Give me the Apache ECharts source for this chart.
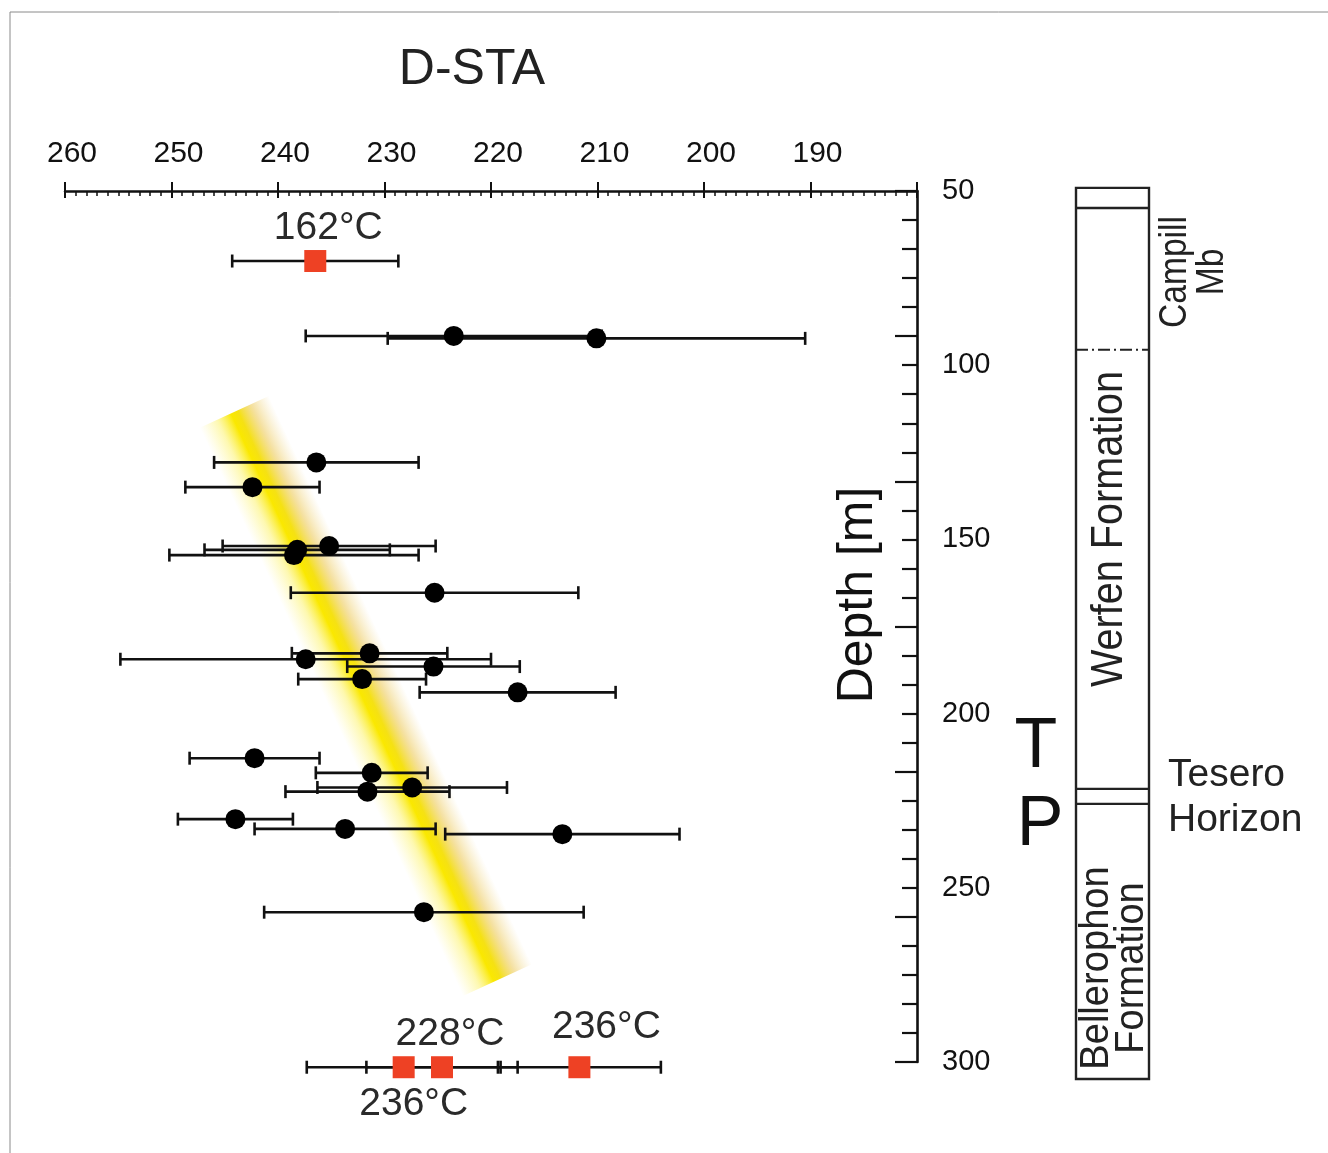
<!DOCTYPE html>
<html><head><meta charset="utf-8">
<script src="https://cdn.jsdelivr.net/npm/echarts@6/dist/echarts.min.js"></script>
<style>html,body{margin:0;padding:0;background:#fff}#c{width:1328px;height:1153px}</style>
</head><body><div id="c"></div>
<script>
// ---- data ----
const tempMin = 180, tempMax = 260;           // x axis (°C), reversed
const depthMin = 50, depthMax = 300;          // y axis (m), downward
const blackDepth = [91.6, 92.3, 127.9, 135.0, 151.9, 153.0, 154.5, 165.3, 182.7, 184.4, 186.5, 190.1, 193.9, 212.8, 217.0, 221.2, 222.4, 230.3, 233.1, 234.6, 257.0];
const blackTemp  = [223.5, 210.1, 236.4, 242.4, 235.2, 238.2, 238.5, 225.3, 231.4, 237.4, 225.4, 232.1, 217.5, 242.2, 231.2, 227.4, 231.6, 244.0, 233.7, 213.3, 226.3];
const blackErr   = [13.9, 19.6, 9.6, 6.3, 10.0, 8.7, 11.7, 13.5, 7.3, 17.4, 8.1, 6.0, 9.2, 6.1, 5.25, 8.9, 7.7, 5.4, 8.5, 11.0, 15.0];
const redDepth  = [70.1, 301.5, 301.5, 301.5];
const redTemp   = [236.5, 228.2, 224.6, 211.7];
const redErr    = [7.8, 9.1, 7.1, 7.65];
const redLabels = ['162°C', '236°C', '228°C', '236°C'];
const bandTemp  = [244.1, 219.4];
const bandDepth = [113.4, 276.5];
const stratDepth = [49.1, 54.9, 95.6, 221.6, 225.9, 304.9];
const stratNames = ['Campill\nMb', 'Werfen Formation', 'Tesero\nHorizon', 'Bellerophon\nFormation'];
const periodLetters = ['T', 'P'];

// ---- chart ----
const chart = echarts.init(document.getElementById('c'), null, {renderer: 'canvas'});
const FONT = '"Liberation Sans", Arial, sans-serif';
const INK = '#111';

const labelPlace = [[13, -33], [10, 37], [8, -33], [27, -40]];

function errBar(params, api) {
  const t = api.value(0), d = api.value(1), e = api.value(2);
  const a = api.coord([t - e, d]);
  const b = api.coord([t + e, d]);
  const st = {stroke: INK, lineWidth: 2.6};
  return {type: 'group', children: [
    {type: 'line', shape: {x1: a[0], y1: a[1], x2: b[0], y2: b[1]}, style: st},
    {type: 'line', shape: {x1: a[0], y1: a[1] - 6.5, x2: a[0], y2: a[1] + 6.5}, style: st},
    {type: 'line', shape: {x1: b[0], y1: b[1] - 6.5, x2: b[0], y2: b[1] + 6.5}, style: st}
  ]};
}

function bandItem(params, api) {
  const p1 = api.coord([bandTemp[0], bandDepth[0]]);
  const p2 = api.coord([bandTemp[1], bandDepth[1]]);
  let dx = p2[0] - p1[0], dy = p2[1] - p1[1];
  const L = Math.hypot(dx, dy); dx /= L; dy /= L;
  const nx = dy, ny = -dx; // points right/up
  const w = 38;
  const pts = [
    [p1[0] - nx * w, p1[1] - ny * w], [p1[0] + nx * w, p1[1] + ny * w],
    [p2[0] + nx * w, p2[1] + ny * w], [p2[0] - nx * w, p2[1] - ny * w]
  ];
  return {type: 'polygon', shape: {points: pts}, style: {
    fill: {type: 'linear', global: true,
      x: p1[0] - nx * w, y: p1[1] - ny * w, x2: p1[0] + nx * w, y2: p1[1] + ny * w,
      colorStops: [
        {offset: 0, color: 'rgba(255,245,120,0)'},
        {offset: 0.25, color: 'rgba(252,240,80,0.45)'},
        {offset: 0.45, color: 'rgba(250,232,0,1)'},
        {offset: 0.55, color: 'rgba(245,225,20,1)'},
        {offset: 0.75, color: 'rgba(238,205,100,0.6)'},
        {offset: 1, color: 'rgba(240,215,140,0)'}
      ]}
  }};
}

const option = {
  animation: false,
  backgroundColor: '#fff',
  grid: {left: 65, right: 411, top: 191, bottom: 91, containLabel: false},
  xAxis: [{
    type: 'value', position: 'top', min: tempMin, max: tempMax, interval: 10, inverse: true,
    axisLine: {show: true, lineStyle: {color: INK, width: 2.5}},
    axisTick: {show: true, inside: true, length: 7, lineStyle: {color: INK, width: 2}},
    minorTick: {show: true, splitNumber: 10, length: 5, lineStyle: {color: INK, width: 1.5}},
    axisLabel: {show: true, fontSize: 30, fontFamily: FONT, color: INK, margin: 22, padding: [0, 0, 0, 14],
      formatter: v => (v === tempMin ? '' : String(v))},
    splitLine: {show: false}
  }, {
    type: 'value', position: 'top', min: tempMin, max: tempMax, interval: 10, inverse: true,
    axisLine: {show: false},
    axisTick: {show: true, inside: false, length: 9, lineStyle: {color: INK, width: 2}},
    axisLabel: {show: false}, splitLine: {show: false}
  }],
  yAxis: [{
    type: 'value', position: 'right', min: depthMin, max: depthMax, interval: 50, inverse: true,
    axisLine: {show: true, lineStyle: {color: INK, width: 2.6}},
    axisTick: {show: false},
    axisLabel: {show: true, fontSize: 29, fontFamily: FONT, color: INK, margin: 25},
    splitLine: {show: false}
  }, {
    type: 'value', position: 'right', min: 0, max: 30, interval: 5, inverse: true,
    axisLine: {show: false},
    axisTick: {show: true, inside: true, length: 22, lineStyle: {color: INK, width: 2.2}},
    minorTick: {show: true, splitNumber: 5, length: 15, lineStyle: {color: INK, width: 2.2}},
    axisLabel: {show: false}, splitLine: {show: false}
  }],
  series: [
    {type: 'custom', name: 'band', xAxisIndex: 0, yAxisIndex: 0, renderItem: bandItem,
     data: [[bandTemp[0], bandDepth[0]]], clip: false, silent: true, z: 1},
    {type: 'custom', name: 'errBlack', xAxisIndex: 0, yAxisIndex: 0, renderItem: errBar, clip: false, z: 2,
     encode: {x: 0, y: 1},
     data: blackTemp.map((t, i) => [t, blackDepth[i], blackErr[i]])},
    {type: 'custom', name: 'errRed', xAxisIndex: 0, yAxisIndex: 0, renderItem: errBar, clip: false, z: 2,
     encode: {x: 0, y: 1},
     data: redTemp.map((t, i) => [t, redDepth[i], redErr[i]])},
    {type: 'scatter', name: 'D-STA', xAxisIndex: 0, yAxisIndex: 0, symbol: 'circle', symbolSize: 20,
     itemStyle: {color: '#000', opacity: 1}, clip: false, z: 3,
     data: blackTemp.map((t, i) => [t, blackDepth[i]])},
    {type: 'scatter', name: 'T', xAxisIndex: 0, yAxisIndex: 0, symbol: 'rect', symbolSize: 22,
     itemStyle: {color: '#ee4124', opacity: 1}, clip: false, z: 4,
     data: redTemp.map((t, i) => ({
       value: [t, redDepth[i]],
       label: {show: true, formatter: redLabels[i], position: [11 + labelPlace[i][0], 11 + labelPlace[i][1]],
         align: 'center', verticalAlign: 'middle', fontSize: 39, fontFamily: FONT, color: '#2a2a2a'}
     }))}
  ]
};
chart.setOption(option);

// ---- annotations ----
function yPix(d) { return chart.convertToPixel({yAxisIndex: 0}, d); }
const colL = 1076, colR = 1149;
const ys = stratDepth.map(yPix);
const colStyle = {stroke: '#222', lineWidth: 2.4, fill: null};
const txt = (o) => Object.assign({type: 'text', silent: true}, o);
const graphics = [
  {type: 'line', shape: {x1: 10, y1: 12, x2: 1328, y2: 12}, style: {stroke: '#8a8a8a', lineWidth: 1}},
  {type: 'line', shape: {x1: 10, y1: 12, x2: 10, y2: 1153}, style: {stroke: '#8a8a8a', lineWidth: 1}},
  txt({x: 472, y: 70, style: {text: 'D-STA', font: '50px ' + FONT, fill: '#222', textAlign: 'center', textVerticalAlign: 'middle'}}),
  txt({x: 858, y: 595, rotation: Math.PI / 2, style: {text: 'Depth [m]', font: '50px ' + FONT, fill: INK, textAlign: 'center', textVerticalAlign: 'middle'}}),
  txt({x: 1036, y: 748, style: {text: periodLetters[0], font: '70px ' + FONT, fill: INK, textAlign: 'center', textVerticalAlign: 'middle'}}),
  txt({x: 1040, y: 826, style: {text: periodLetters[1], font: '70px ' + FONT, fill: INK, textAlign: 'center', textVerticalAlign: 'middle'}}),
  {type: 'rect', shape: {x: colL, y: ys[0], width: colR - colL, height: ys[5] - ys[0]}, style: colStyle},
  {type: 'line', shape: {x1: colL, y1: ys[1], x2: colR, y2: ys[1]}, style: colStyle},
  {type: 'line', shape: {x1: colL, y1: ys[2], x2: colR, y2: ys[2]}, style: {stroke: '#222', lineWidth: 2, lineDash: [12, 4, 2, 4]}},
  {type: 'line', shape: {x1: colL, y1: ys[3], x2: colR, y2: ys[3]}, style: colStyle},
  {type: 'line', shape: {x1: colL, y1: ys[4], x2: colR, y2: ys[4]}, style: colStyle},
  txt({x: 1194, y: 272, rotation: Math.PI / 2, scaleX: 0.86, style: {text: stratNames[0], font: '39px ' + FONT, lineHeight: 37, fill: '#222', textAlign: 'center', textVerticalAlign: 'middle'}}),
  txt({x: 1110, y: 529, rotation: Math.PI / 2, scaleX: 0.88, style: {text: stratNames[1], font: '45px ' + FONT, fill: '#222', textAlign: 'center', textVerticalAlign: 'middle'}}),
  txt({x: 1168, y: 798, style: {text: stratNames[2], font: '39px ' + FONT, lineHeight: 45, fill: '#222', textAlign: 'left', textVerticalAlign: 'middle'}}),
  txt({x: 1114, y: 968, rotation: Math.PI / 2, scaleX: 0.93, style: {text: stratNames[3], font: '41px ' + FONT, lineHeight: 35, fill: '#222', textAlign: 'center', textVerticalAlign: 'middle'}})
];
chart.setOption({graphic: graphics});
</script></body></html>
